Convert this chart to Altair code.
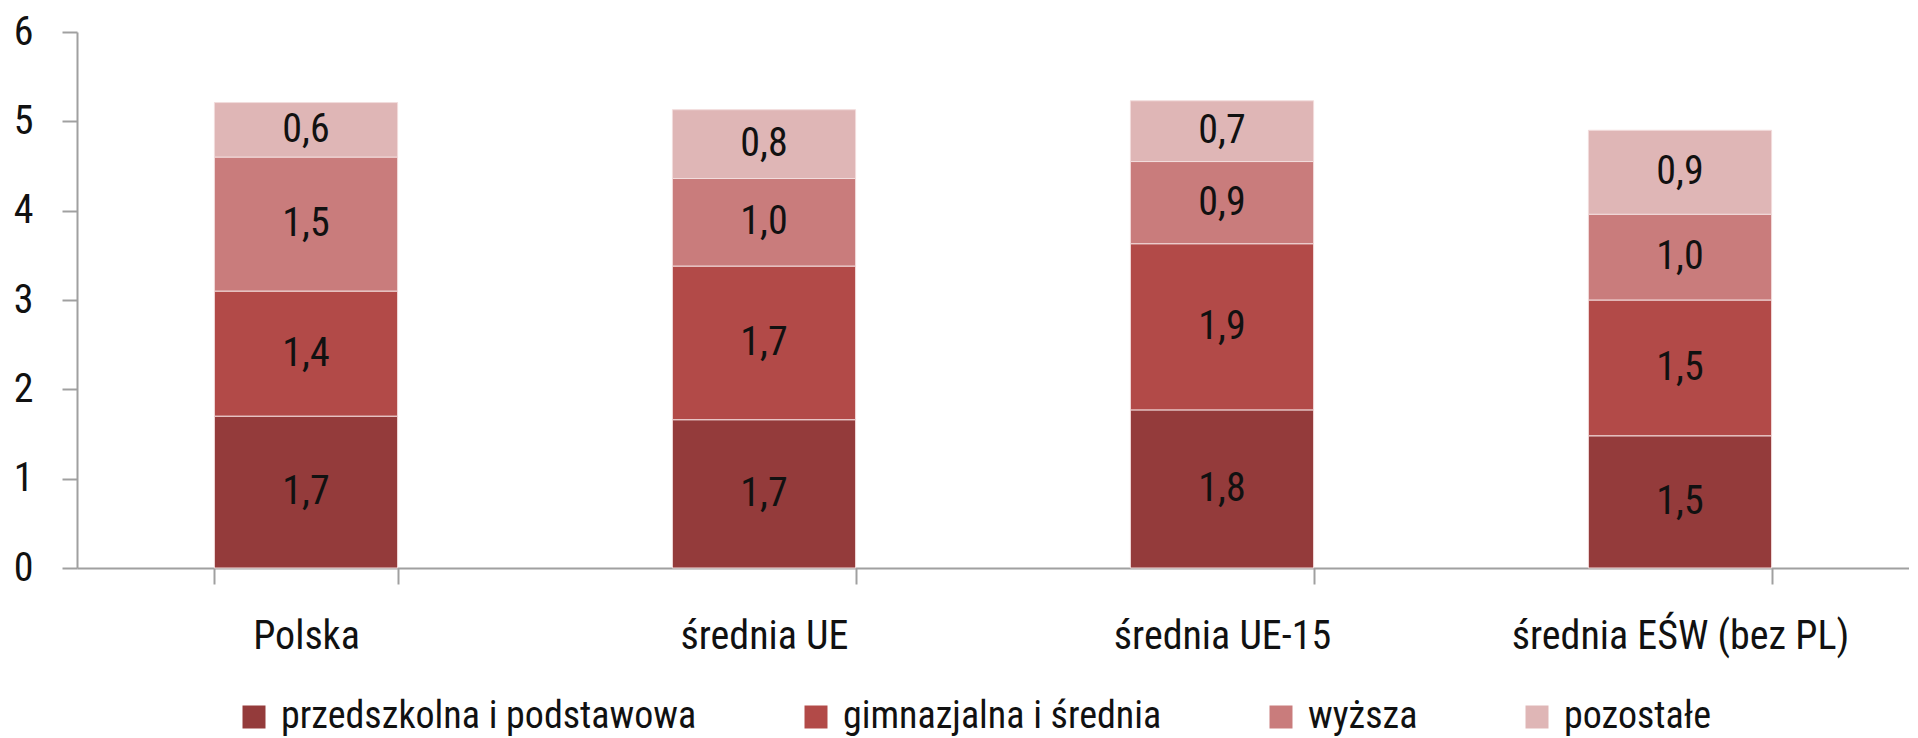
import altair as alt
import pandas as pd

FONT = "Roboto Condensed, Liberation Sans Narrow, Roboto, sans-serif"

categories = ["Polska", "średnia UE", "średnia UE-15", "średnia EŚW (bez PL)"]
levels = ["przedszkolna i podstawowa", "gimnazjalna i średnia", "wyższa", "pozostałe"]
przedszkolna = [1.70, 1.66, 1.77, 1.48]
gimnazjalna = [1.40, 1.72, 1.86, 1.52]
wyzsza = [1.50, 0.98, 0.92, 0.96]
pozostale = [0.61, 0.77, 0.68, 0.94]
colors = ["#943B3B", "#B24A48", "#C97C7C", "#DFB6B6"]
y_ticks = [0, 1, 2, 3, 4, 5, 6]

rows = []
for k, (lvl, vals) in enumerate(zip(levels, [przedszkolna, gimnazjalna, wyzsza, pozostale])):
    for c, v in zip(categories, vals):
        rows.append({"kraj": c, "poziom": lvl, "wartosc": v, "kolejnosc": k})
df = pd.DataFrame(rows)

base = alt.Chart(df).transform_stack(
    stack="wartosc",
    groupby=["kraj"],
    as_=["y0", "y1"],
    sort=[alt.SortField("kolejnosc", order="ascending")],
).transform_calculate(
    mid="(datum.y0 + datum.y1) / 2",
    lbl="replace(format(datum.wartosc, '.1f'), '.', ',')",
)

x_enc = alt.X(
    "kraj:N",
    sort=categories,
    title=None,
    scale=alt.Scale(paddingInner=0.6, paddingOuter=0.3),
    axis=alt.Axis(
        labelAngle=0,
        labelFontSize=40,
        labelFont=FONT,
        labelColor="#111111",
        labelPadding=32,
        labelLimit=0,
        tickBand="extent",
        tickSize=16,
        tickColor="#A0A0A0",
        domainColor="#A0A0A0",
        domainWidth=2,
        tickWidth=2,
        grid=False,
    ),
)

y_scale = alt.Scale(domain=[0, 6], nice=False)

bars = base.mark_bar(stroke="#F2DCDC", strokeWidth=1).encode(
    x=x_enc,
    y=alt.Y(
        "y0:Q",
        scale=y_scale,
        title=None,
        axis=alt.Axis(
            values=y_ticks,
            format="d",
            labelFontSize=40,
            labelFont=FONT,
            labelColor="#111111",
            labelPadding=29,
            tickSize=15,
            tickColor="#A0A0A0",
            domainColor="#A0A0A0",
            domainWidth=2,
            tickWidth=2,
            grid=False,
            minExtent=69,
            maxExtent=69,
        ),
    ),
    y2="y1:Q",
    color=alt.Color(
        "poziom:N",
        scale=alt.Scale(domain=levels, range=colors),
        legend=alt.Legend(
            title=None,
            orient="none",
            direction="horizontal",
            legendX=158,
            legendY=666,
            padding=0,
            symbolType="square",
            symbolSize=529,
            symbolStrokeWidth=0,
            labelFontSize=38,
            labelFont=FONT,
            labelColor="#111111",
            labelOffset=8,
            labelLimit=0,
            columnPadding=100,
        ),
    ),
)

text = base.mark_text(fontSize=40, font=FONT, color="#111111").encode(
    x=x_enc,
    y=alt.Y("mid:Q", scale=y_scale),
    text="lbl:N",
)

chart = (
    alt.layer(bars, text)
    .properties(
        width=1832,
        height=536,
        padding={"top": 4, "left": 0, "right": 0, "bottom": 0},
    )
    .configure_view(stroke=None)
)

chart.save("out.html", embed_options={"renderer": "svg", "actions": False})
